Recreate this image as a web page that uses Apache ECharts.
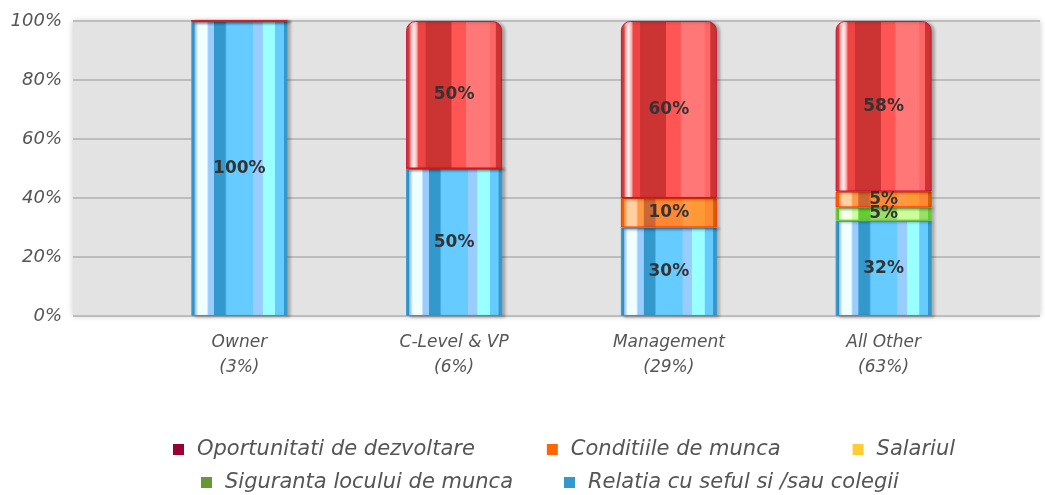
<!DOCTYPE html>
<html>
<head>
<meta charset="utf-8">
<script src="https://cdn.jsdelivr.net/npm/echarts@6/dist/echarts.min.js"></script>
<style>
  html, body { margin: 0; padding: 0; background: #ffffff; }
  #chart { width: 1045px; height: 495px; }
</style>
</head>
<body>
<div id="chart"></div>
<script>
// categorii si valori (procente)
const categories = ['Owner\n(3%)', 'C-Level & VP\n(6%)', 'Management\n(29%)', 'All Other\n(63%)'];
const oportunitati = [0, 50, 60, 57.8];
const conditiile = [0, 0, 10, 5.4];
const salariul = [0, 0, 0, 0];
const siguranta = [0, 0, 0, 4.5];
const relatia = [100, 50, 30, 32.3];
const yTicks = [0, 20, 40, 60, 80, 100];

const names = {
  op: 'Oportunitati de dezvoltare',
  co: 'Conditiile de munca',
  sa: 'Salariul',
  si: 'Siguranta locului de munca',
  re: 'Relatia cu seful si /sau colegii'
};

// gradient orizontal cu benzi, ca un cilindru
function stripes(edge, hi, light, dark, mid, bright, end) {
  return {
    type: 'linear', x: 0, y: 0, x2: 1, y2: 0,
    colorStops: [
      { offset: 0, color: edge }, { offset: 0.03, color: edge },
      { offset: 0.035, color: light }, { offset: 0.07, color: hi },
      { offset: 0.16, color: hi }, { offset: 0.18, color: light },
      { offset: 0.235, color: light }, { offset: 0.24, color: dark },
      { offset: 0.35, color: dark }, { offset: 0.37, color: mid },
      { offset: 0.64, color: mid }, { offset: 0.645, color: light },
      { offset: 0.74, color: light }, { offset: 0.745, color: bright },
      { offset: 0.87, color: bright }, { offset: 0.875, color: mid },
      { offset: 0.96, color: mid }, { offset: 0.965, color: end },
      { offset: 1, color: end }
    ]
  };
}

const redFill = {
  type: 'linear', x: 0, y: 0, x2: 1, y2: 0,
  colorStops: [
    { offset: 0, color: '#cc3333' }, { offset: 0.03, color: '#dd4444' },
    { offset: 0.05, color: '#ffb0b0' }, { offset: 0.08, color: '#fff4f4' },
    { offset: 0.11, color: '#ffb0b0' }, { offset: 0.13, color: '#ee4444' },
    { offset: 0.2, color: '#ee4444' }, { offset: 0.205, color: '#cc3333' },
    { offset: 0.47, color: '#cc3333' }, { offset: 0.475, color: '#ff5555' },
    { offset: 0.62, color: '#ff5555' }, { offset: 0.625, color: '#ff7777' },
    { offset: 0.87, color: '#ff7777' }, { offset: 0.875, color: '#ff6666' },
    { offset: 0.93, color: '#ff6666' }, { offset: 0.935, color: '#cc3333' },
    { offset: 1, color: '#cc3333' }
  ]
};

const blueFill = stripes('#3399cc', '#f0ffff', '#99ccff', '#3399cc', '#66ccff', '#99ffff', '#3399cc');
const greenFill = stripes('#66cc33', '#f4ffe8', '#ccff99', '#66cc33', '#99e066', '#ccff99', '#66cc33');
const orangeFill = stripes('#ff6600', '#ffd0a0', '#ff9944', '#cc6633', '#ff8833', '#ff9933', '#cc6600');
const yellowFill = stripes('#ffcc33', '#fffbe0', '#ffe680', '#e6b800', '#ffd633', '#ffee88', '#e6b800');

const pctLabel = {
  show: true,
  position: 'inside',
  color: '#333333',
  fontFamily: 'DejaVu Sans',
  fontWeight: 'bold',
  fontSize: 17,
  formatter: (p) => (p.value > 0 ? Math.round(p.value) + '%' : '')
};

function barSeries(name, data, fill, border, radius) {
  return {
    name: name,
    type: 'bar',
    stack: 'total',
    xAxisIndex: 1,
    yAxisIndex: 1,
    barWidth: 96,
    data: data,
    label: pctLabel,
    itemStyle: {
      color: fill,
      borderColor: border,
      borderWidth: 1,
      borderRadius: radius || 0,
      shadowColor: 'rgba(0,0,0,0.28)',
      shadowBlur: 3,
      shadowOffsetX: 3,
      shadowOffsetY: 1
    }
  };
}

const legendText = {
  fontFamily: 'DejaVu Sans',
  fontStyle: 'italic',
  fontSize: 21,
  color: '#555555',
  padding: [0, 0, 0, 8]
};

const option = {
  animation: false,
  grid: [
    {
      left: 73, right: 5, top: 21, bottom: 179,
      show: true,
      backgroundColor: '#e3e3e3',
      borderWidth: 0,
      shadowColor: 'rgba(0,0,0,0.22)',
      shadowBlur: 6
    },
    { left: 132, width: 859, top: 21, bottom: 179 }
  ],
  xAxis: [
    { gridIndex: 0, type: 'value', show: false, min: 0, max: 1 },
    {
      gridIndex: 1,
      type: 'category',
      data: categories,
      axisLine: { show: false },
      axisTick: { show: false },
      axisLabel: {
        margin: 14,
        lineHeight: 25,
        fontFamily: 'DejaVu Sans',
        fontStyle: 'italic',
        fontSize: 17,
        color: '#555555'
      }
    }
  ],
  yAxis: [
    {
      gridIndex: 0,
      type: 'value',
      min: yTicks[0],
      max: yTicks[yTicks.length - 1],
      interval: 20,
      axisLine: { show: false },
      axisTick: { show: false },
      axisLabel: {
        margin: 11,
        fontFamily: 'DejaVu Sans',
        fontStyle: 'italic',
        fontSize: 18,
        color: '#555555',
        formatter: '{value}%'
      },
      splitLine: { lineStyle: { color: '#bdbdbd', width: 2 } }
    },
    { gridIndex: 1, type: 'value', min: 0, max: 100, show: false, splitLine: { show: false } }
  ],
  legend: [
    {
      left: 173, top: 439, padding: 0, itemGap: 72,
      itemWidth: 11, itemHeight: 11, icon: 'rect',
      textStyle: legendText,
      data: [
        { name: names.op, itemStyle: { color: '#990033', borderWidth: 0, shadowBlur: 0 } },
        { name: names.co, itemStyle: { color: '#ff6600', borderWidth: 0, shadowBlur: 0 } },
        { name: names.sa, itemStyle: { color: '#ffcc33', borderWidth: 0, shadowBlur: 0 } }
      ]
    },
    {
      left: 201, top: 472, padding: 0, itemGap: 51,
      itemWidth: 11, itemHeight: 11, icon: 'rect',
      textStyle: legendText,
      data: [
        { name: names.si, itemStyle: { color: '#669933', borderWidth: 0, shadowBlur: 0 } },
        { name: names.re, itemStyle: { color: '#3399cc', borderWidth: 0, shadowBlur: 0 } }
      ]
    }
  ],
  series: [
    barSeries(names.re, relatia, blueFill, '#3399cc'),
    barSeries(names.si, siguranta, greenFill, '#66cc33'),
    barSeries(names.sa, salariul, yellowFill, '#ffcc00'),
    barSeries(names.co, conditiile, orangeFill, '#ff3300'),
    barSeries(names.op, oportunitati, redFill, '#cc1133', [9, 9, 0, 0])
  ]
};

const myChart = echarts.init(document.getElementById('chart'));
myChart.setOption(option);
window.addEventListener('resize', () => {
  myChart.resize();
});
</script>
</body>
</html>
